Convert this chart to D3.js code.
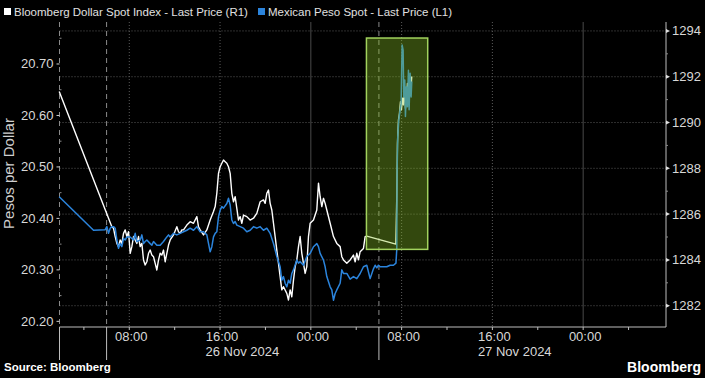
<!DOCTYPE html>
<html>
<head>
<meta charset="utf-8">
<script src="https://cdn.jsdelivr.net/npm/d3@7"></script>
<style>
  html, body { margin: 0; padding: 0; background: #000; }
  svg { display: block; font-family: "Liberation Sans", Arial, sans-serif; }
</style>
</head>
<body>
<script>
// hours counted from 26 Nov 2024 00:00
var dxyHours = [1.824, 6.464, 6.611, 6.758, 6.905, 7.052, 7.198, 7.345, 7.492, 7.639, 7.786, 7.933, 8.080, 8.226, 8.373, 8.520, 8.667, 8.814, 8.961, 9.107, 9.254, 9.401, 9.548, 9.695, 9.842, 9.989, 10.135, 10.282, 10.429, 10.576, 10.723, 10.869, 11.016, 11.163, 11.310, 11.457, 11.604, 11.898, 12.191, 12.338, 12.485, 12.632, 12.779, 13.072, 13.366, 13.660, 13.953, 14.100, 14.247, 14.541, 14.834, 15.128, 15.422, 15.569, 15.715, 15.862, 16.009, 16.156, 16.303, 16.449, 16.596, 16.743, 16.890, 17.037, 17.184, 17.330, 17.477, 17.624, 17.771, 17.918, 18.065, 18.358, 18.652, 18.946, 19.239, 19.533, 19.827, 19.974, 20.120, 20.267, 20.414, 20.561, 20.708, 21.002, 21.295, 21.442, 21.589, 21.883, 22.029, 22.176, 22.323, 22.470, 22.617, 22.764, 22.911, 23.057, 23.204, 23.351, 23.498, 23.645, 23.792, 23.938, 24.232, 24.526, 24.673, 24.820, 24.967, 25.113, 25.260, 25.407, 25.701, 25.994, 26.288, 26.582, 26.729, 26.875, 27.169, 27.463, 27.757, 27.904, 28.050, 28.197, 28.344, 28.638, 28.785, 28.931, 31.489, 31.574, 31.632, 31.720, 31.809, 31.897, 31.985, 32.073, 32.161, 32.249, 32.337, 32.425, 32.514, 32.602, 32.690, 32.778, 32.896];
var dxyValues = [1291.35, 1285.45, 1285.38, 1285.02, 1284.72, 1284.58, 1284.87, 1284.72, 1285.16, 1285.31, 1285.02, 1285.23, 1284.29, 1284.58, 1285.02, 1284.87, 1284.72, 1285.02, 1284.58, 1284.72, 1284.00, 1283.78, 1283.92, 1284.29, 1284.43, 1284.21, 1284.14, 1283.85, 1283.56, 1284.00, 1284.29, 1284.21, 1284.43, 1283.92, 1284.29, 1284.65, 1284.87, 1285.09, 1285.45, 1285.23, 1285.16, 1285.31, 1285.31, 1285.52, 1285.67, 1285.60, 1285.89, 1285.45, 1285.31, 1285.09, 1285.31, 1285.74, 1286.11, 1286.33, 1286.91, 1287.78, 1288.07, 1288.22, 1288.36, 1288.29, 1288.22, 1288.07, 1287.78, 1286.91, 1286.54, 1286.76, 1286.25, 1285.74, 1285.89, 1285.60, 1285.96, 1285.89, 1285.74, 1285.82, 1286.03, 1286.54, 1286.62, 1286.47, 1286.91, 1287.05, 1286.47, 1286.18, 1285.60, 1284.43, 1283.27, 1282.69, 1282.83, 1282.54, 1282.25, 1282.69, 1282.39, 1283.12, 1283.71, 1284.00, 1284.58, 1285.02, 1284.29, 1283.85, 1283.41, 1283.71, 1285.02, 1285.60, 1285.74, 1286.18, 1287.35, 1286.76, 1286.33, 1286.69, 1286.47, 1286.18, 1285.60, 1285.02, 1284.72, 1284.58, 1284.14, 1284.00, 1283.85, 1284.00, 1284.21, 1283.92, 1284.29, 1284.00, 1284.36, 1284.50, 1285.02, 1285.04, 1284.69, 1286.76, 1289.09, 1290.11, 1290.40, 1290.91, 1290.55, 1291.06, 1290.77, 1291.50, 1290.62, 1291.06, 1291.71, 1290.91, 1291.57, 1291.20, 1292.01];

var mxnHours = [1.824, 4.849, 5.877, 6.024, 6.171, 6.317, 6.464, 6.611, 6.758, 6.905, 7.052, 7.198, 7.345, 7.492, 7.639, 7.786, 8.080, 8.373, 8.520, 8.667, 8.961, 9.107, 9.254, 9.401, 9.548, 9.842, 9.989, 10.135, 10.429, 10.723, 11.016, 11.310, 11.457, 11.604, 11.898, 12.191, 12.485, 12.779, 13.072, 13.366, 13.660, 13.953, 14.247, 14.541, 14.834, 15.128, 15.275, 15.422, 15.569, 15.715, 15.862, 16.009, 16.156, 16.303, 16.596, 16.743, 16.890, 17.037, 17.184, 17.330, 17.477, 17.771, 18.065, 18.358, 18.652, 18.946, 19.239, 19.533, 19.827, 20.120, 20.414, 20.708, 21.002, 21.295, 21.442, 21.589, 21.736, 21.883, 22.029, 22.176, 22.323, 22.470, 22.764, 22.911, 23.057, 23.351, 23.645, 23.938, 24.232, 24.526, 24.673, 24.820, 25.113, 25.260, 25.407, 25.701, 25.847, 25.994, 26.141, 26.288, 26.582, 26.729, 26.875, 27.169, 27.463, 27.757, 28.050, 28.344, 28.638, 28.931, 29.225, 29.518, 29.665, 29.812, 29.958, 30.105, 30.399, 30.693, 30.986, 31.280, 31.500, 31.574, 31.603, 31.662, 31.750, 31.867, 31.955, 32.043, 32.132, 32.190, 32.279, 32.337, 32.425, 32.514, 32.602, 32.661, 32.749, 32.837, 32.896];
var mxnValues = [20.442, 20.377, 20.378, 20.384, 20.371, 20.381, 20.384, 20.384, 20.381, 20.358, 20.342, 20.351, 20.345, 20.361, 20.358, 20.364, 20.364, 20.358, 20.371, 20.355, 20.358, 20.368, 20.351, 20.355, 20.358, 20.351, 20.348, 20.355, 20.348, 20.348, 20.355, 20.364, 20.368, 20.364, 20.371, 20.368, 20.371, 20.374, 20.377, 20.381, 20.377, 20.384, 20.374, 20.374, 20.368, 20.335, 20.345, 20.364, 20.371, 20.374, 20.403, 20.416, 20.423, 20.420, 20.429, 20.439, 20.426, 20.397, 20.390, 20.394, 20.387, 20.384, 20.381, 20.374, 20.377, 20.384, 20.381, 20.384, 20.377, 20.381, 20.371, 20.351, 20.326, 20.306, 20.280, 20.287, 20.274, 20.267, 20.280, 20.274, 20.293, 20.300, 20.319, 20.313, 20.316, 20.309, 20.326, 20.332, 20.345, 20.351, 20.345, 20.332, 20.319, 20.306, 20.287, 20.267, 20.261, 20.241, 20.254, 20.261, 20.274, 20.300, 20.293, 20.293, 20.282, 20.287, 20.283, 20.293, 20.306, 20.309, 20.283, 20.302, 20.309, 20.304, 20.309, 20.306, 20.306, 20.306, 20.309, 20.309, 20.313, 20.340, 20.494, 20.559, 20.591, 20.611, 20.623, 20.737, 20.727, 20.636, 20.669, 20.598, 20.656, 20.617, 20.688, 20.611, 20.682, 20.636, 20.666];

var leftTicks = [20.20, 20.30, 20.40, 20.50, 20.60, 20.70];
var rightTicks = [1282, 1284, 1286, 1288, 1290, 1292, 1294];
var dayLabels = ["26 Nov 2024", "27 Nov 2024"];
var sessionBreakHours = [6, 30];          // dashed separators
var highlightHours = [28.9, 34.3];        // shaded box, time span
var highlightValues = [1284.46, 1293.69]; // shaded box, right-axis span

var seriesNames = ["Bloomberg Dollar Spot Index - Last Price (R1)", "Mexican Peso Spot - Last Price (L1)"];
var seriesColors = ["#ffffff", "#2b84dc"];

var width = 705, height = 378;
var plot = {left: 59.5, right: 666, top: 22, bottom: 327};

var base = Date.UTC(2024, 10, 26);
function toDate(h) { return new Date(base + h * 3600e3); }

var x = d3.scaleUtc()
    .domain([toDate(1.85), toDate(55.3)])
    .range([plot.left, plot.right]);
var yL = d3.scaleLinear().domain([20.189, 20.7816]).range([plot.bottom, plot.top]);
var yR = d3.scaleLinear().domain([1281.07, 1294.39]).range([plot.bottom, plot.top]);

var svg = d3.select("body").append("svg")
    .attr("width", width)
    .attr("height", height);
svg.append("rect").attr("width", width).attr("height", height).attr("fill", "#000");

// horizontal grid (right axis ticks)
svg.append("g").selectAll("line")
    .data(rightTicks)
  .enter().append("line")
    .attr("x1", plot.left).attr("x2", plot.right)
    .attr("y1", function(d) { return yR(d); })
    .attr("y2", function(d) { return yR(d); })
    .attr("stroke", "#5a5a5a")
    .attr("stroke-dasharray", "1,2");

// vertical grid at 4h ticks
var hourTicks = d3.utcHour.every(4).range(toDate(1.85), toDate(55.3));
var labelTicks = hourTicks.filter(function(d) { return d.getUTCHours() % 8 === 0; });
svg.append("g").selectAll("line")
    .data(labelTicks)
  .enter().append("line")
    .attr("x1", function(d) { return x(d); })
    .attr("x2", function(d) { return x(d); })
    .attr("y1", plot.top).attr("y2", plot.bottom)
    .attr("stroke", function(d) { return d.getUTCHours() === 0 ? "#4a4a4a" : "#5a5a5a"; })
    .attr("stroke-dasharray", function(d) { return d.getUTCHours() === 0 ? null : "1,2"; });

// session separators
var breaks = [toDate(1.85)].concat(sessionBreakHours.map(toDate));
var sep = svg.append("g");
sep.selectAll(".dash").data(breaks).enter().append("line")
    .attr("x1", function(d) { return x(d); })
    .attr("x2", function(d) { return x(d); })
    .attr("y1", plot.top).attr("y2", plot.bottom)
    .attr("stroke", "#8a8a8a")
    .attr("stroke-dasharray", "5,4");
sep.selectAll(".solid").data(breaks).enter().append("line")
    .attr("x1", function(d) { return x(d); })
    .attr("x2", function(d) { return x(d); })
    .attr("y1", plot.bottom).attr("y2", 360)
    .attr("stroke", "#bdbdbd");

// axes lines
svg.append("line")
    .attr("x1", plot.left).attr("x2", plot.right)
    .attr("y1", plot.bottom).attr("y2", plot.bottom)
    .attr("stroke", "#bdbdbd");
svg.append("line")
    .attr("x1", plot.right).attr("x2", plot.right)
    .attr("y1", plot.top).attr("y2", plot.bottom)
    .attr("stroke", "#bdbdbd");

// bottom ticks + labels
svg.append("g").selectAll("line")
    .data(hourTicks)
  .enter().append("line")
    .attr("x1", function(d) { return x(d); })
    .attr("x2", function(d) { return x(d); })
    .attr("y1", plot.bottom).attr("y2", plot.bottom + 3)
    .attr("stroke", "#bdbdbd");
svg.append("g").selectAll("text")
    .data(labelTicks)
  .enter().append("text")
    .attr("x", function(d) { return x(d) + 2; })
    .attr("y", 341)
    .attr("text-anchor", "middle")
    .attr("fill", "#d8d8d8")
    .style("font-size", "13px")
    .text(d3.utcFormat("%H:%M"));
svg.append("g").selectAll("text")
    .data(dayLabels)
  .enter().append("text")
    .attr("x", function(d, i) { return x(toDate(16 + 24 * i)) - 14.5; })
    .attr("y", 356)
    .attr("fill", "#d8d8d8")
    .style("font-size", "13px")
    .text(function(d) { return d; });

// left axis
var lg = svg.append("g");
lg.selectAll("line.major").data(leftTicks).enter().append("line")
    .attr("x1", plot.left - 3).attr("x2", plot.left)
    .attr("y1", function(d) { return yL(d); })
    .attr("y2", function(d) { return yL(d); })
    .attr("stroke", "#d0d0d0");
lg.selectAll("line.minor").data(leftTicks.map(function(d) { return d + 0.05; })).enter().append("line")
    .attr("x1", plot.left).attr("x2", plot.left + 2)
    .attr("y1", function(d) { return yL(d); })
    .attr("y2", function(d) { return yL(d); })
    .attr("stroke", "#8a8a8a");
lg.selectAll("text").data(leftTicks).enter().append("text")
    .attr("x", 53.5)
    .attr("y", function(d) { return yL(d) + 4.5; })
    .attr("text-anchor", "end")
    .attr("fill", "#d8d8d8")
    .style("font-size", "13px")
    .text(d3.format(".2f"));
svg.append("text")
    .attr("transform", "translate(14," + ((plot.top + plot.bottom) / 2 - 1) + ") rotate(-90)")
    .attr("text-anchor", "middle")
    .attr("fill", "#cfcfcf")
    .style("font-size", "15px")
    .text("Pesos per Dollar");

// right axis
var rg = svg.append("g");
rg.selectAll("path").data(rightTicks).enter().append("path")
    .attr("d", function(d) { var y = yR(d); return "M" + plot.right + "," + (y - 2) + "L" + (plot.right + 4) + "," + y + "L" + plot.right + "," + (y + 2) + "Z"; })
    .attr("fill", "#e0e0e0");
rg.selectAll("line").data(rightTicks.slice(0, -1).map(function(d) { return d + 1; })).enter().append("line")
    .attr("x1", plot.right).attr("x2", plot.right + 2)
    .attr("y1", function(d) { return yR(d); })
    .attr("y2", function(d) { return yR(d); })
    .attr("stroke", "#8a8a8a");
rg.selectAll("text").data(rightTicks).enter().append("text")
    .attr("x", 672)
    .attr("y", function(d) { return yR(d) + 4.5; })
    .attr("fill", "#d8d8d8")
    .style("font-size", "13px")
    .text(function(d) { return d; });

// series
var dxy = dxyHours.map(function(h, i) { return [toDate(h), dxyValues[i]]; });
var mxn = mxnHours.map(function(h, i) { return [toDate(h), mxnValues[i]]; });

svg.append("path")
    .datum(dxy)
    .attr("fill", "none")
    .attr("stroke", seriesColors[0])
    .attr("stroke-width", 1.4)
    .attr("stroke-linejoin", "round")
    .attr("d", d3.line().x(function(d) { return x(d[0]); }).y(function(d) { return yR(d[1]); }));
svg.append("path")
    .datum(mxn)
    .attr("fill", "none")
    .attr("stroke", seriesColors[1])
    .attr("stroke-width", 1.5)
    .attr("stroke-linejoin", "round")
    .attr("d", d3.line().x(function(d) { return x(d[0]); }).y(function(d) { return yL(d[1]); }));

// highlight box
svg.append("rect")
    .attr("x", x(toDate(highlightHours[0])))
    .attr("y", yR(highlightValues[1]))
    .attr("width", x(toDate(highlightHours[1])) - x(toDate(highlightHours[0])))
    .attr("height", yR(highlightValues[0]) - yR(highlightValues[1]))
    .attr("fill", "rgba(140,200,40,0.36)")
    .attr("stroke", "#a2d35e")
    .attr("stroke-width", 1.5);

// legend
var leg = svg.append("g").style("font-size", "11.5px");
var legX = [4, 258];
seriesNames.forEach(function(name, i) {
  leg.append("rect")
      .attr("x", legX[i]).attr("y", 8)
      .attr("width", 7).attr("height", 7)
      .attr("fill", seriesColors[i]);
  leg.append("text")
      .attr("x", legX[i] + 10).attr("y", 15.5)
      .attr("fill", "#e0e0e0")
      .text(name);
});

// footer
svg.append("text")
    .attr("x", 4).attr("y", 371)
    .attr("fill", "#ffffff")
    .style("font-size", "11.5px")
    .style("font-weight", "bold")
    .text("Source: Bloomberg");
svg.append("text")
    .attr("x", 701).attr("y", 372)
    .attr("text-anchor", "end")
    .attr("fill", "#ffffff")
    .style("font-size", "14px")
    .style("font-weight", "bold")
    .text("Bloomberg");
</script>
</body>
</html>
